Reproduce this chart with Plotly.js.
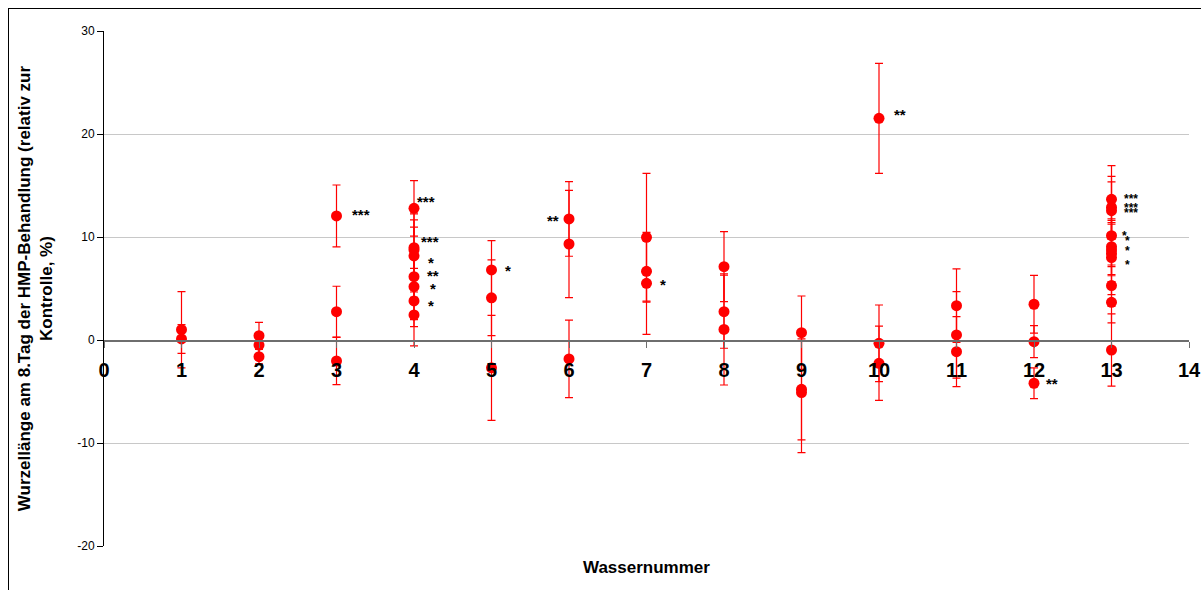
<!DOCTYPE html>
<html>
<head>
<meta charset="utf-8">
<script src="https://cdn.plot.ly/plotly-3.0.1.min.js"></script>
<style>
  html, body { margin: 0; padding: 0; background: #fff; }
  #wrap { position: relative; width: 1201px; height: 590px; overflow: hidden; }
  #chart { width: 1201px; height: 590px; }
  #frame { position: absolute; left: 8px; top: 8px; width: 1400px; height: 800px;
           border: 1px solid #000; pointer-events: none; box-sizing: border-box; }
</style>
</head>
<body>
<div id="wrap"><div id="chart"></div><div id="frame"></div></div>
<script>
// Wassernummer of each measurement
const wasser = [1, 1,
                2, 2, 2,
                3, 3, 3,
                4, 4, 4, 4, 4, 4, 4, 4,
                5, 5, 5,
                6, 6, 6,
                7, 7, 7,
                8, 8, 8,
                9, 9, 9,
                10, 10, 10,
                11, 11, 11,
                12, 12, 12,
                13, 13, 13, 13, 13, 13, 13, 13, 13, 13, 13];
// Wurzellänge relativ zur Kontrolle (%)
const wurzel = [1.0, 0.1,
                0.42, -0.49, -1.62,
                12.05, 2.75, -2.04,
                12.78, 8.96, 8.74, 8.16, 6.15, 5.18, 3.79, 2.43,
                6.8, 4.1, -2.7,
                11.75, 9.32, -1.84,
                9.97, 6.67, 5.5,
                7.12, 2.75, 1.03,
                0.71, -4.79, -5.1,
                21.52, -0.32, -2.26,
                3.33, 0.49, -1.13,
                3.47, -0.16, -4.2,
                13.66, 12.88, 12.56, 10.13, 9.06, 8.74, 8.4, 8.0, 5.28, 3.66, -0.97];
// Fehlerbalken (±)
const fehler = [3.7, 1.4,
                1.3, 0.9, 0.7,
                3.0, 2.47, 2.3,
                2.7, 2.0, 3.5, 3.5, 2.0, 3.2, 2.5, 3.0,
                2.85, 3.68, 5.1,
                3.62, 5.2, 3.76,
                6.2, 3.0, 4.95,
                3.4, 3.55, 5.4,
                3.56, 4.9, 5.84,
                5.34, 3.72, 3.6,
                3.57, 4.2, 3.4,
                2.8, 1.55, 1.5,
                3.26, 3.0, 2.8, 3.0, 2.7, 2.5, 3.0, 3.6, 2.0, 2.0, 3.5];

// Signifikanzsterne
const sternX = [3.32, 4.16, 4.21, 4.22, 4.24, 4.24, 4.22, 5.21, 5.79, 7.21, 10.27, 12.23,
                13.25, 13.25, 13.25, 13.17, 13.2, 13.2, 13.2];
const sternY = [12.5, 13.76, 9.87, 7.83, 6.57, 5.28, 3.66, 7.0, 11.9, 5.7, 22.2, -3.9,
                14.0, 13.1, 12.6, 10.42, 9.87, 8.9, 7.54];
const sternText = ['***', '***', '***', '*', '**', '*', '*', '*', '**', '*', '**', '**',
                   '***', '***', '***', '*', '*', '*', '*'];

const xTicks = [0, 1, 2, 3, 4, 5, 6, 7, 8, 9, 10, 11, 12, 13, 14];
const yTicks = [-20, -10, 0, 10, 20, 30];

const FONT = 'Liberation Sans, Arial, sans-serif';

const trace = {
  type: 'scatter',
  mode: 'markers',
  x: wasser,
  y: wurzel,
  marker: { color: '#ff0000', size: 11 },
  error_y: { type: 'data', array: fehler, visible: true, color: '#ff0000', thickness: 1.2, width: 4 },
  hoverinfo: 'x+y',
  showlegend: false
};

const annotations = sternX.map((x, i) => ({
  x: x, y: sternY[i], xref: 'x', yref: 'y',
  text: sternText[i], showarrow: false,
  xanchor: 'center', yanchor: 'middle', yshift: -3,
  font: { family: FONT, size: x > 13 ? 12 : 15, color: '#000', weight: 'bold' }
}));

annotations.push({
  x: 0.5, y: -0.041, xref: 'paper', yref: 'paper',
  text: 'Wassernummer', showarrow: false,
  xanchor: 'center', yanchor: 'middle',
  font: { family: FONT, size: 17, color: '#000', weight: 'bold' }
});
annotations.push({
  x: -0.063, y: 0.5, xref: 'paper', yref: 'paper',
  text: 'Wurzellänge am 8.Tag der HMP-Behandlung (relativ zur<br>Kontrolle, %)',
  showarrow: false, textangle: -90,
  xanchor: 'center', yanchor: 'middle',
  font: { family: FONT, size: 17, color: '#000', weight: 'bold' }
});

const layout = {
  width: 1201, height: 590,
  margin: { l: 104, r: 12, t: 31, b: 44 },
  paper_bgcolor: '#fff', plot_bgcolor: '#fff',
  xaxis: {
    range: [0, 14], tickmode: 'array', tickvals: xTicks, ticktext: xTicks.map(String),
    anchor: 'free', position: 0.4,
    showgrid: false, zeroline: false,
    showline: true, linecolor: '#6e6e6e', linewidth: 1.5,
    ticks: 'outside', ticklen: 6, tickcolor: '#6e6e6e', tickwidth: 1,
    ticklabelstandoff: 5,
    tickfont: { family: FONT, size: 20, color: '#000', weight: 'bold' }
  },
  yaxis: {
    range: [-20, 30], tickmode: 'array', tickvals: yTicks, ticktext: yTicks.map(String),
    showgrid: true, gridcolor: '#c8c8c8', gridwidth: 1,
    zeroline: false,
    showline: true, linecolor: '#000', linewidth: 1,
    ticks: 'outside', ticklen: 6, tickcolor: '#000',
    tickfont: { family: FONT, size: 12, color: '#000' }
  },
  annotations: annotations
};

Plotly.newPlot('chart', [trace], layout, { displayModeBar: false, staticPlot: true });
</script>
</body>
</html>
